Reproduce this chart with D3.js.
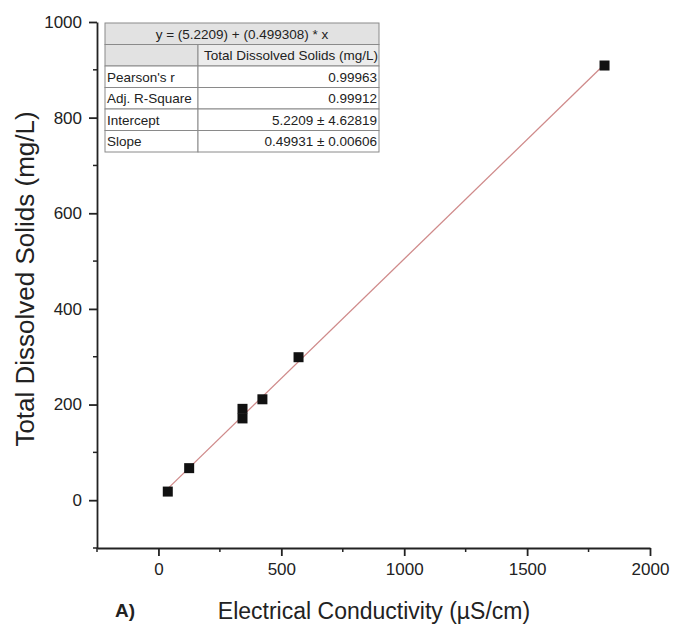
<!DOCTYPE html>
<html>
<head>
<meta charset="utf-8">
<script src="https://cdn.jsdelivr.net/npm/d3@7"></script>
<style>
  html, body { margin: 0; padding: 0; background: #fff; }
  svg { display: block; font-family: "Liberation Sans", Arial, sans-serif; }
</style>
</head>
<body>
<svg id="chart" width="673" height="628"></svg>
<script>
// Measured samples: electrical conductivity (µS/cm) vs total dissolved solids (mg/L)
const ec  = [38, 125, 342, 342, 423, 570, 1815];
const tds = [18, 67, 191, 171, 211, 299, 909];

// Linear fit reported in the statistics table
const fitIntercept = 5.2209;
const fitSlope = 0.499308;

const xTicks = [0, 500, 1000, 1500, 2000];
const xMinorTicks = [-250, 250, 750, 1250, 1750];
const yTicks = [0, 200, 400, 600, 800, 1000];
const yMinorTicks = [-100, 100, 300, 500, 700, 900];

const tableTitle = "y = (5.2209) + (0.499308) * x";
const tableHeader = "Total Dissolved Solids (mg/L)";
const tableLabels = ["Pearson's r", "Adj. R-Square", "Intercept", "Slope"];
const tableValues = ["0.99963", "0.99912", "5.2209 \u00b1 4.62819", "0.49931 \u00b1 0.00606"];

const svg = d3.select("#chart");

const x = d3.scaleLinear().domain([-250, 2000]).range([97, 650]);
const y = d3.scaleLinear().domain([-100, 1000]).range([548, 22]);

// Bottom axis
const xAxis = svg.append("g").attr("transform", `translate(0,${y(-100)})`);
xAxis.call(d3.axisBottom(x).tickValues(xTicks).tickSize(8).tickPadding(7).tickSizeOuter(0).tickFormat(d3.format("d")));
xAxis.append("g").selectAll("line").data(xMinorTicks).join("line")
  .attr("x1", d => x(d)).attr("x2", d => x(d)).attr("y1", 0).attr("y2", 4)
  .attr("stroke", "#222").attr("stroke-width", 1.5);

// Left axis
const yAxis = svg.append("g").attr("transform", `translate(${x(-250)},0)`);
yAxis.call(d3.axisLeft(y).tickValues(yTicks).tickSize(8).tickPadding(7).tickSizeOuter(0).tickFormat(d3.format("d")));
yAxis.append("g").selectAll("line").data(yMinorTicks).join("line")
  .attr("x1", 0).attr("x2", -4).attr("y1", d => y(d)).attr("y2", d => y(d))
  .attr("stroke", "#222").attr("stroke-width", 1.5);

[xAxis, yAxis].forEach(g => {
  g.select(".domain").attr("stroke", "#222").attr("stroke-width", 1.8);
  g.selectAll(".tick line").attr("stroke", "#222").attr("stroke-width", 1.8);
  g.selectAll(".tick text").attr("font-size", 17).attr("fill", "#222")
    .attr("font-family", "'Liberation Sans', Arial, sans-serif");
});

// Fitted line across the measured range
const xExt = d3.extent(ec);
svg.append("line")
  .attr("x1", x(xExt[0])).attr("y1", y(fitIntercept + fitSlope * xExt[0]))
  .attr("x2", x(xExt[1])).attr("y2", y(fitIntercept + fitSlope * xExt[1]))
  .attr("stroke", "#cf8a8a").attr("stroke-width", 1.3);

// Data points
const sq = 10;
svg.append("g").selectAll("rect").data(ec.map((v, i) => [v, tds[i]])).join("rect")
  .attr("x", d => x(d[0]) - sq / 2).attr("y", d => y(d[1]) - sq / 2)
  .attr("width", sq).attr("height", sq).attr("fill", "#111");

// Axis titles
svg.append("text")
  .attr("transform", "translate(34,279) rotate(-90)")
  .attr("text-anchor", "middle").attr("font-size", 26).attr("fill", "#222")
  .text("Total Dissolved Solids (mg/L)");
svg.append("text")
  .attr("x", 374).attr("y", 619).attr("text-anchor", "middle")
  .attr("font-size", 23).attr("fill", "#222")
  .text("Electrical Conductivity (\u00b5S/cm)");
svg.append("text")
  .attr("x", 115).attr("y", 617).attr("font-size", 19).attr("font-weight", "bold").attr("fill", "#222")
  .text("A)");

// Statistics table
const tbl = { left: 105, right: 379, split: 198, top: 23, rowH: 21.5 };
const tg = svg.append("g").attr("font-size", 13.5).attr("fill", "#222");
const border = "#8a8a8a";
const rowY = i => tbl.top + i * tbl.rowH;

// title row
tg.append("rect").attr("x", tbl.left).attr("y", rowY(0))
  .attr("width", tbl.right - tbl.left).attr("height", tbl.rowH)
  .attr("fill", "#e2e2e2").attr("stroke", border);
tg.append("text").attr("x", (tbl.left + tbl.right) / 2).attr("y", rowY(0) + 15.5)
  .attr("text-anchor", "middle").text(tableTitle);

// header row
tg.append("rect").attr("x", tbl.left).attr("y", rowY(1))
  .attr("width", tbl.split - tbl.left).attr("height", tbl.rowH)
  .attr("fill", "#e2e2e2").attr("stroke", border);
tg.append("rect").attr("x", tbl.split).attr("y", rowY(1))
  .attr("width", tbl.right - tbl.split).attr("height", tbl.rowH)
  .attr("fill", "#ececec").attr("stroke", border);
tg.append("text").attr("x", tbl.right - 1).attr("y", rowY(1) + 15.5)
  .attr("text-anchor", "end").text(tableHeader);

// data rows
tableLabels.forEach((lab, i) => {
  const r = i + 2;
  tg.append("rect").attr("x", tbl.left).attr("y", rowY(r))
    .attr("width", tbl.split - tbl.left).attr("height", tbl.rowH)
    .attr("fill", "#fff").attr("stroke", border);
  tg.append("rect").attr("x", tbl.split).attr("y", rowY(r))
    .attr("width", tbl.right - tbl.split).attr("height", tbl.rowH)
    .attr("fill", "#fff").attr("stroke", border);
  tg.append("text").attr("x", tbl.left + 2).attr("y", rowY(r) + 15.5).text(lab);
  tg.append("text").attr("x", tbl.right - 2).attr("y", rowY(r) + 15.5)
    .attr("text-anchor", "end").text(tableValues[i]);
});
</script>
</body>
</html>
